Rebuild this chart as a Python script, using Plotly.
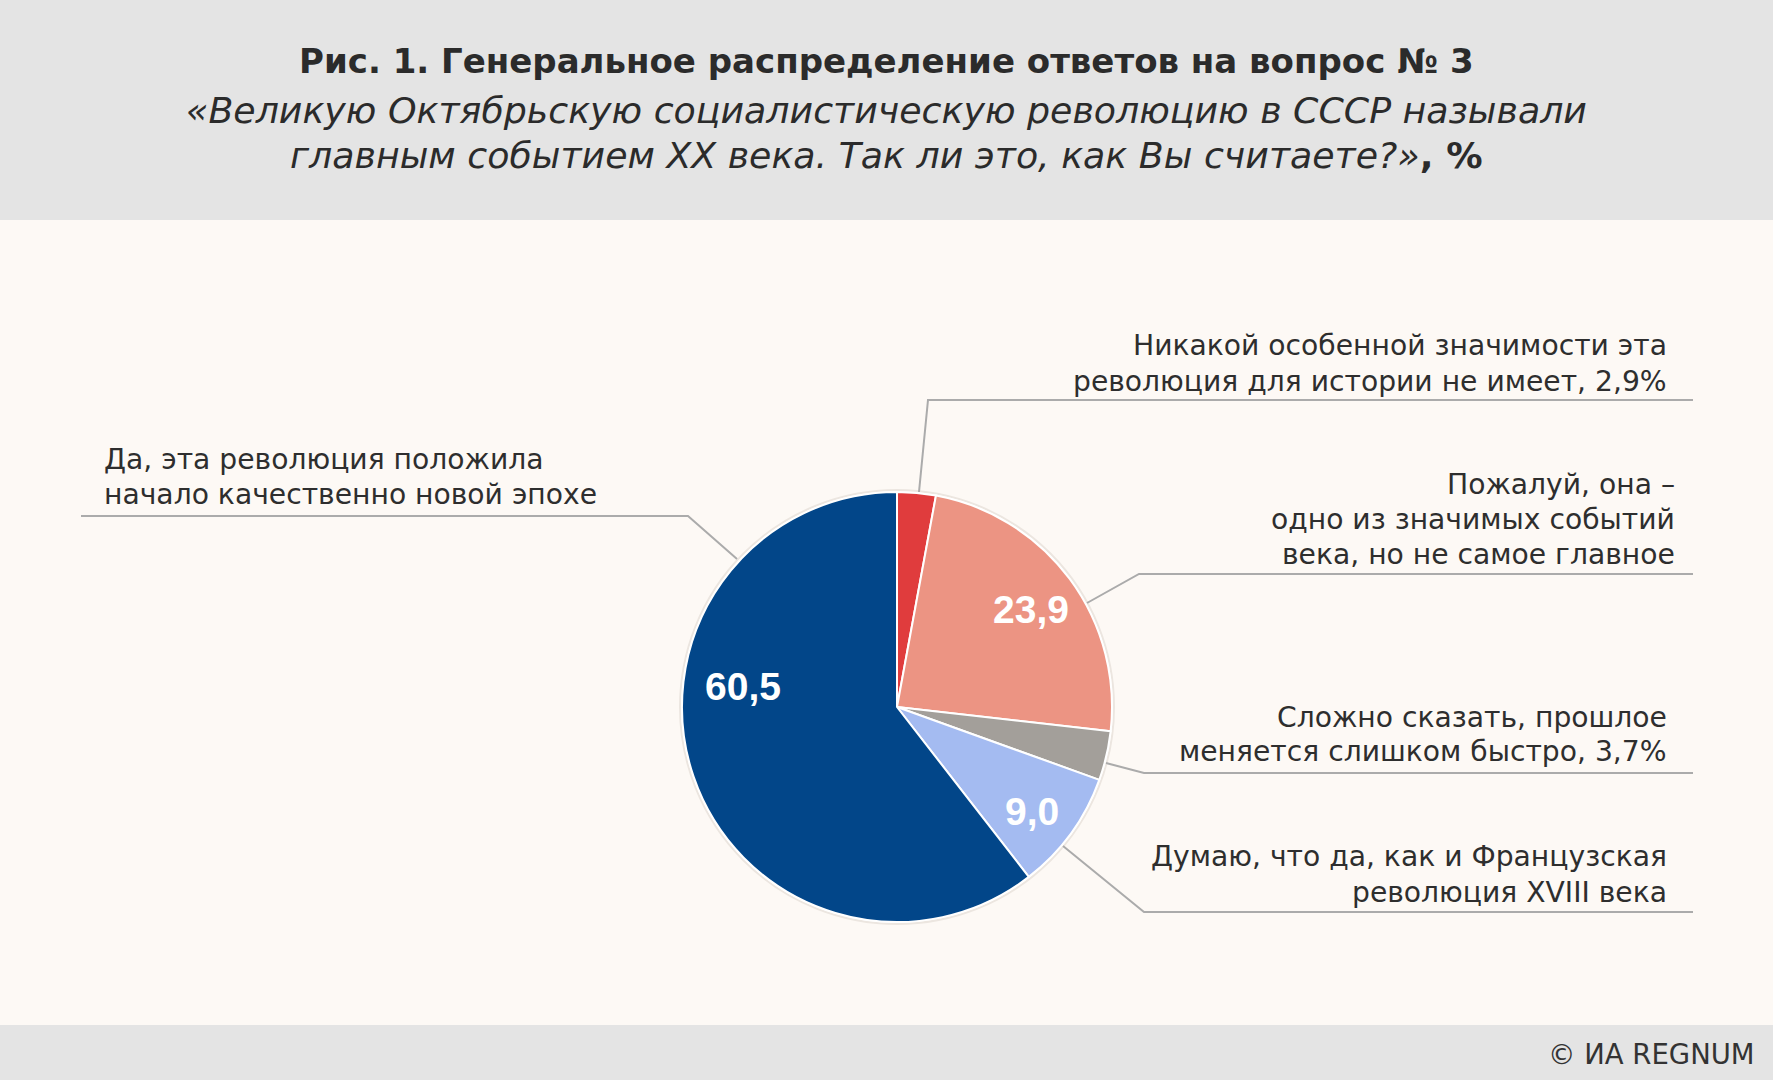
import plotly.graph_objects as go

W, H = 1773, 1080

# ---- data ----
categories = [
    "Никакой особенной значимости эта революция для истории не имеет",
    "Пожалуй, она – одно из значимых событий века, но не самое главное",
    "Сложно сказать, прошлое меняется слишком быстро",
    "Думаю, что да, как и Французская революция XVIII века",
    "Да, эта революция положила начало качественно новой эпохе",
]
values = [2.9, 23.9, 3.7, 9.0, 60.5]
colors = ["#E03C3D", "#EC9483", "#A39F9A", "#A4BBF1", "#024689"]
show_inside = [False, True, False, True, True]

label_lines = [
    ["Никакой особенной значимости эта", "революция для истории не имеет, {v}%"],
    ["Пожалуй, она –", "одно из значимых событий", "века, но не самое главное"],
    ["Сложно сказать, прошлое", "меняется слишком быстро, {v}%"],
    ["Думаю, что да, как и Французская", "революция XVIII века"],
    ["Да, эта революция положила", "начало качественно новой эпохе"],
]

title_text = "Рис. 1. Генеральное распределение ответов на вопрос № 3"
subtitle_lines = [
    "<i>«Великую Октябрьскую социалистическую революцию в СССР называли</i>",
    "<i>главным событием XX века. Так ли это, как Вы считаете?»</i><b>, %</b>",
]
source_text = "© ИА REGNUM"


def fmt(v):
    return f"{v:.1f}".replace(".", ",")


def px(x, y):
    return x / W, 1 - y / H


BODY = "DejaVu Sans, sans-serif"
NARROW = "Liberation Sans Narrow, Arial Narrow, sans-serif"
TXT = "#2E2E2E"
LINE = "#ABABAB"

cx, cy, r = 897, 707, 215

fig = go.Figure(
    go.Pie(
        labels=categories,
        values=values,
        sort=False,
        direction="clockwise",
        rotation=0,
        marker=dict(colors=colors, line=dict(color="#FFFFFF", width=2)),
        textinfo="none",
        hoverinfo="label+value",
        showlegend=False,
        domain=dict(x=[(cx - r) / W, (cx + r) / W], y=[1 - (cy + r) / H, 1 - (cy - r) / H]),
    )
)

shapes = []
shapes.append(dict(type="rect", xref="paper", yref="paper", x0=0, x1=1, y0=1 - 220 / H, y1=1,
                   fillcolor="#E4E4E4", line=dict(width=0), layer="below"))
shapes.append(dict(type="rect", xref="paper", yref="paper", x0=0, x1=1, y0=0, y1=55 / H,
                   fillcolor="#E4E4E4", line=dict(width=0), layer="below"))
x0, y0 = px(cx - r - 2, cy - r - 2)
x1, y1 = px(cx + r + 2, cy + r + 2)
shapes.append(dict(type="circle", xref="paper", yref="paper", x0=x0, x1=x1, y0=y1, y1=y0,
                   line=dict(color="#ECE6E0", width=2), layer="below"))

leaders = [
    [(919, 492), (928, 400), (1693, 400)],
    [(1087, 603), (1139, 574), (1693, 574)],
    [(1106, 763), (1144, 773), (1693, 773)],
    [(1063, 846), (1144, 912), (1693, 912)],
    [(737, 559), (688, 516), (81, 516)],
]
for pts in leaders:
    path = ""
    for i, (x, y) in enumerate(pts):
        X, Y = px(x, y)
        path += ("M" if i == 0 else "L") + f"{X},{Y} "
    shapes.append(dict(type="path", xref="paper", yref="paper", path=path.strip(),
                       line=dict(color=LINE, width=2)))

annotations = []


def add_text(text, x, y, anchor, size, family=BODY, color=TXT):
    X, Y = px(x, y)
    annotations.append(dict(text=text, x=X, y=Y, xref="paper", yref="paper",
                            xanchor=anchor, yanchor="middle", align=anchor, showarrow=False,
                            font=dict(family=family, size=size, color=color)))


add_text(f"<b>{title_text}</b>", W / 2, 61, "center", 34, color="#2B2B2B")
for line, y in zip(subtitle_lines, [110, 156]):
    add_text(line, W / 2, y, "center", 36.3, color="#2B2B2B")

label_pos = [
    (1669, [345, 381], "right"),
    (1677, [484, 519, 554], "right"),
    (1669, [717, 751], "right"),
    (1669, [856, 892], "right"),
    (102, [459, 494], "left"),
]
for lines, v, (x, ys, a) in zip(label_lines, values, label_pos):
    for line, y in zip(lines, ys):
        add_text(line.format(v=fmt(v)), x, y, a, 28.2)

value_pos = [None, (1031, 609), None, (1032, 811), (743, 686)]
for v, s, p in zip(values, show_inside, value_pos):
    if s:
        add_text(f"<b>{fmt(v)}</b>", p[0], p[1], "center", 39, family=NARROW, color="#FFFFFF")

add_text(source_text, 1757, 1054, "right", 27.5, color="#333333")

fig.update_layout(
    width=W, height=H,
    margin=dict(l=0, r=0, t=0, b=0),
    paper_bgcolor="#FDF9F5",
    plot_bgcolor="#FDF9F5",
    shapes=shapes,
    annotations=annotations,
)

fig.write_html("out.html", config={"displayModeBar": False},
               post_script="document.body.style.margin='0';document.body.style.padding='0';")
